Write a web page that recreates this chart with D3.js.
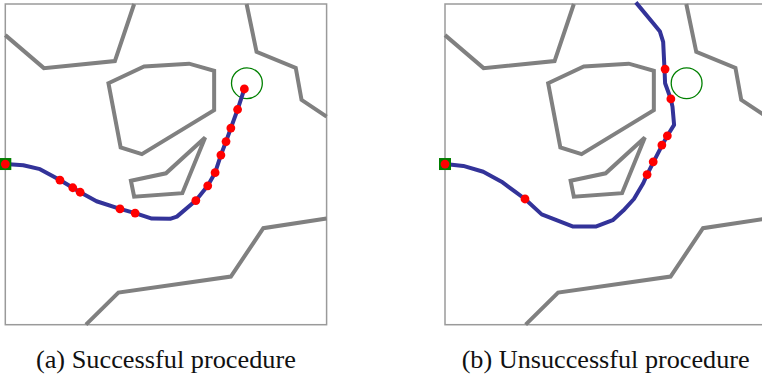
<!DOCTYPE html>
<html><head><meta charset="utf-8">
<script src="https://cdn.jsdelivr.net/npm/d3@7"></script>
<style>body{margin:0;background:#fff}svg{display:block}
.cap{font-family:"Liberation Serif","DejaVu Serif",serif;}</style>
</head><body>
<svg id="c" width="762" height="377"></svg>
<script>
// ---- data (map units 0..100, y downward) ----
const obstacleTopLeft = [[0,9.7],[12.0,20.0],[34.1,17.8],[40.1,0]];
const obstacleTopRight = [[75.1,0],[78.2,14.9],[90.4,19.9],[92.2,29.9],[100,35.1]];
const obstaclePentagon = [[32.1,24.7],[43.2,19.5],[57.2,18.6],[65.0,20.8],[65.0,33.1],[42.5,46.8],[35.9,44.7]];
const obstacleWedge = [[39.1,55.1],[50.0,52.8],[62.2,41.6],[55.1,59.0],[40.1,60.1]];
const obstacleBottom = [[25.1,100],[35.2,90.0],[70.2,85.0],[80.3,69.9],[100,66.9]];

const startPoint = [0, 49.9];
const goalPoint = [75.2, 24.7];
const goalRadius = 4.8;

const pathSuccess = [[0,49.9],[5.6,50.3],[10.8,51.5],[17.0,54.9],[21.0,57.3],[23.3,58.7],[28.4,61.5],[35.7,63.9],[40.4,65.2],[45.6,66.9],[51.3,67.0],[53.4,66.3],[59.3,61.3],[63.0,56.7],[65.3,52.6],[67.1,47.1],[68.7,42.9],[70.2,38.7],[72.3,32.9],[74.4,26.5]];
const waypointsSuccess = [[0,49.9],[17.0,54.9],[21.0,57.3],[23.3,58.7],[35.7,63.9],[40.4,65.2],[59.3,61.3],[63.0,56.7],[65.3,52.6],[67.1,47.1],[68.7,42.9],[70.2,38.7],[72.3,32.9],[74.4,26.5]];

const pathFailure = [[0,49.9],[5.7,50.5],[11.9,52.3],[17.6,55.4],[21.8,58.5],[24.9,60.8],[30.1,65.6],[39.9,69.4],[46.9,69.4],[52.2,67.4],[55.5,64.4],[58.8,60.8],[61.7,55.9],[62.9,53.2],[64.9,49.2],[67.6,44.0],[69.2,41.1],[71.3,37.7],[70.8,32.0],[70.2,29.4],[68.5,24.7],[68.3,20.0],[67.9,11.8],[66.9,8.6],[64.8,6.0],[59.4,-0.5]];
const waypointsFailure = [[0,49.9],[24.9,60.8],[62.9,53.2],[64.8,49.2],[67.5,44.0],[69.2,41.1],[70.3,29.6],[68.5,20.3]];

const captions = ["(a) Successful procedure", "(b) Unsuccessful procedure"];

// ---- drawing ----
const svg = d3.select("#c");
const W = 321.3, H = 320.7;
const x = d3.scaleLinear().domain([0,100]).range([0,W]);
const y = d3.scaleLinear().domain([0,100]).range([0,H]);
const line = d3.line().x(d=>x(d[0])).y(d=>y(d[1]));

const panels = [
  {ox:5.3, path:pathSuccess, dots:waypointsSuccess, caption:captions[0]},
  {ox:445, path:pathFailure, dots:waypointsFailure, caption:captions[1]}
];
const captionWidths = [260, 288];

panels.forEach((p,i)=>{
  const g = svg.append("g").attr("transform",`translate(${p.ox},4)`);
  g.append("rect").attr("x",0).attr("y",0).attr("width",W).attr("height",H)
    .attr("fill","none").attr("stroke","#9a9a9a").attr("stroke-width",1.5);
  [obstacleTopLeft, obstacleTopRight, obstacleBottom].forEach(o=>{
    g.append("path").attr("d",line(o)).attr("fill","none")
      .attr("stroke","#808080").attr("stroke-width",4).attr("stroke-linejoin","miter");
  });
  [obstaclePentagon, obstacleWedge].forEach(o=>{
    g.append("path").attr("d",line(o)+"Z").attr("fill","none")
      .attr("stroke","#808080").attr("stroke-width",4).attr("stroke-linejoin","miter");
  });
  g.append("circle").attr("cx",x(goalPoint[0])).attr("cy",y(goalPoint[1])).attr("r",x(goalRadius))
    .attr("fill","none").attr("stroke","#008000").attr("stroke-width",1.3);
  g.append("path").attr("d",line(p.path)).attr("fill","none")
    .attr("stroke","#333399").attr("stroke-width",4).attr("stroke-linejoin","round");
  g.append("rect").attr("x",x(startPoint[0])-6).attr("y",y(startPoint[1])-6)
    .attr("width",12).attr("height",12).attr("fill","#007f00");
  g.selectAll("circle.wp").data(p.dots).enter().append("circle").attr("class","wp")
    .attr("cx",d=>x(d[0])).attr("cy",d=>y(d[1])).attr("r",4.4).attr("fill","#ff0000");
  svg.append("text").attr("class","cap").attr("x",p.ox+W/2).attr("y",368).attr("text-anchor","middle")
    .attr("font-size",25.5).attr("fill","#111")
    .attr("textLength",captionWidths[i]).attr("lengthAdjust","spacingAndGlyphs")
    .text(p.caption);
});
</script>
</body></html>
